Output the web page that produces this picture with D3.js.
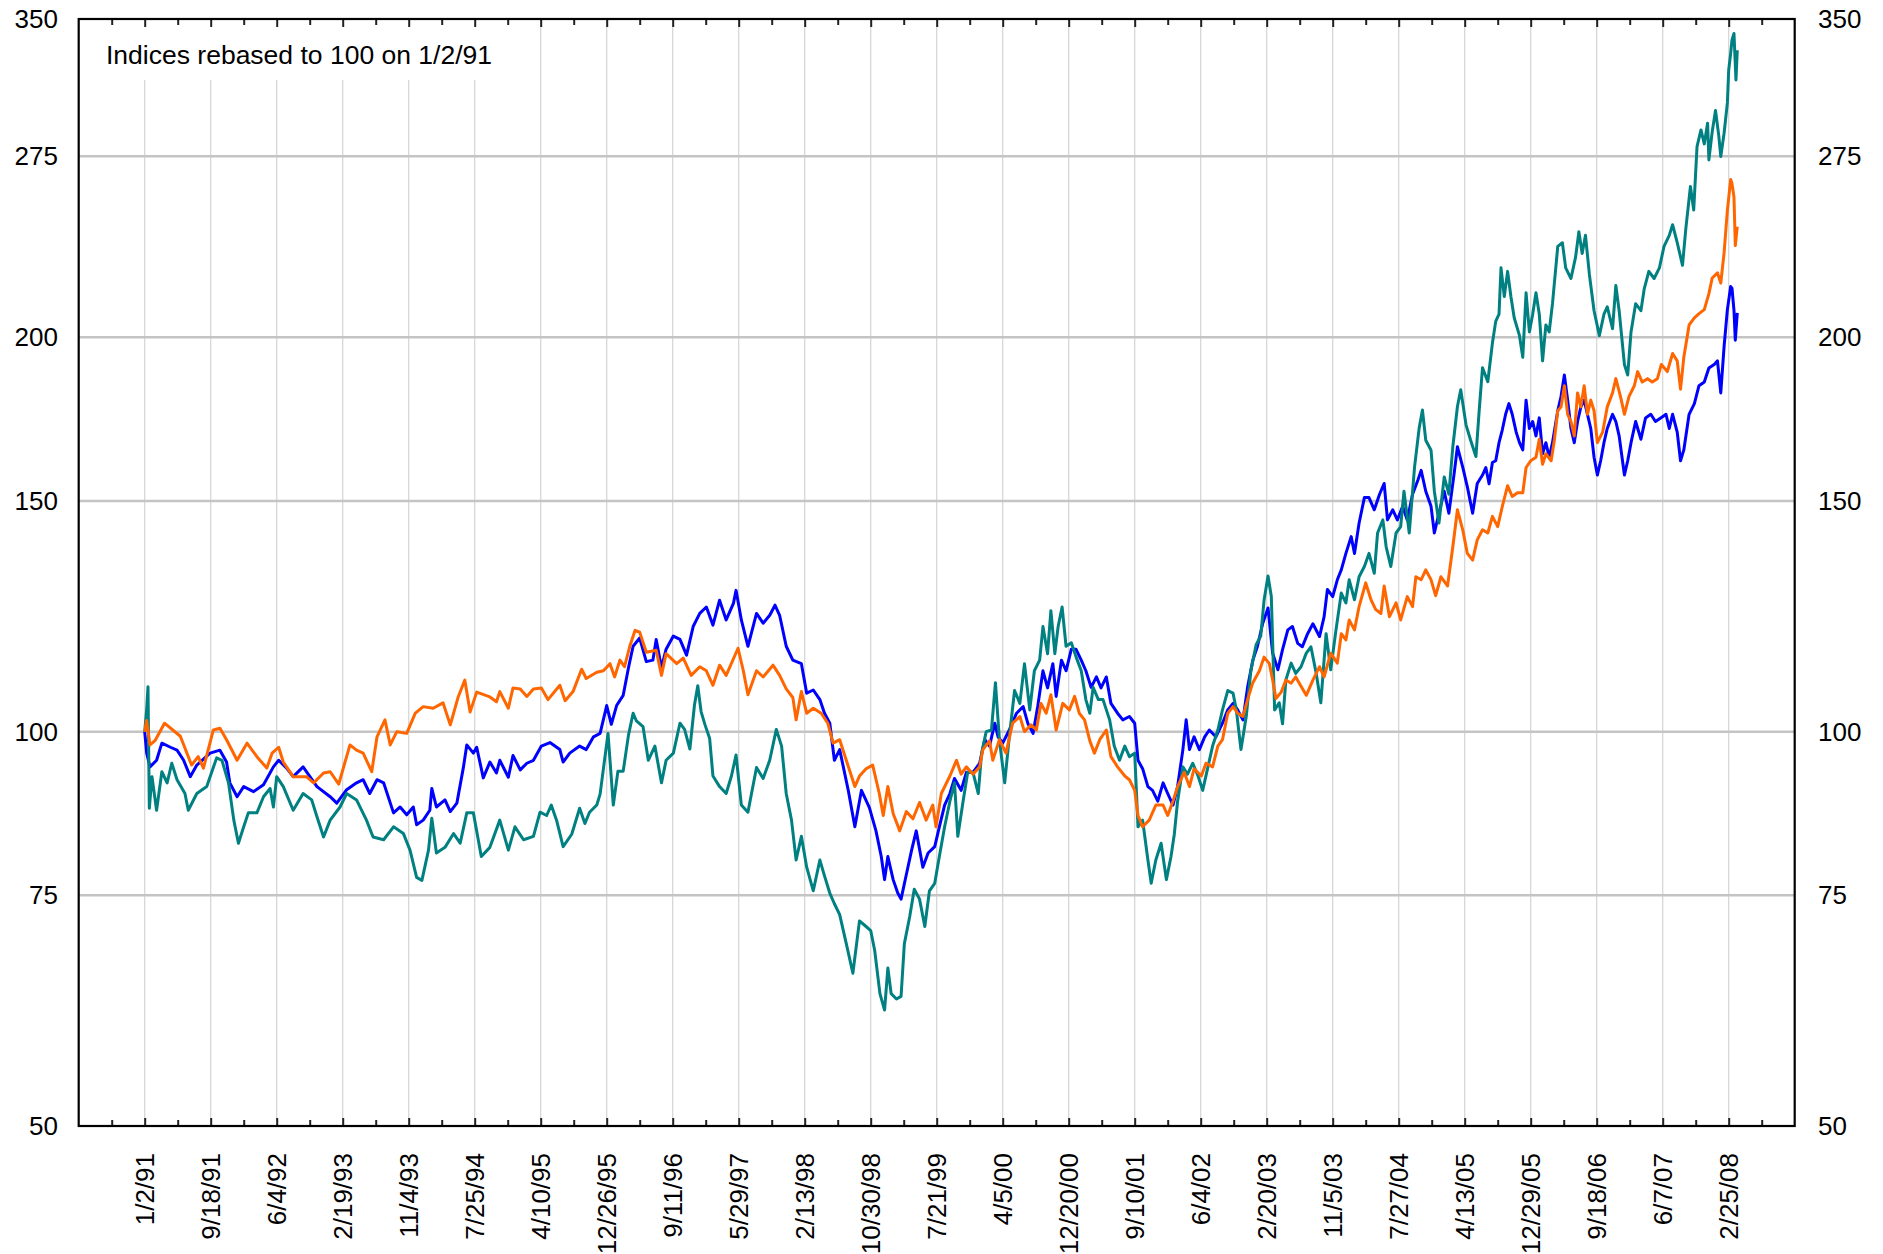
<!DOCTYPE html>
<html>
<head>
<meta charset="utf-8">
<script src="https://cdn.jsdelivr.net/npm/d3@7"></script>
<style>
  body { margin: 0; background: #fff; }
  svg { display: block; font-family: "Liberation Sans", Arial, sans-serif; }
</style>
</head>
<body>
<script>
// Size
const w = 1883;
const h = 1254;
const plotLeft = 78.7, plotRight = 1794.7, plotTop = 19, plotBottom = 1126;

// Tick labels (one every 180 trading days)
const dateLabels = ["1/2/91", "9/18/91", "6/4/92", "2/19/93", "11/4/93", "7/25/94", "4/10/95",
  "12/26/95", "9/11/96", "5/29/97", "2/13/98", "10/30/98", "7/21/99", "4/5/00", "12/20/00",
  "9/10/01", "6/4/02", "2/20/03", "11/5/03", "7/27/04", "4/13/05", "12/29/05", "9/18/06",
  "6/7/07", "2/25/08"];
const yTicks = [50, 75, 100, 150, 200, 275, 350];
const yGrid = [75, 100, 150, 200, 275];

// Series: [position in tick periods, index value]
const orange = [
  [0,100],[0.03,102],[0.08,97.7],[0.16,98.5],[0.3,101.5],[0.54,99.2],[0.71,94.3],[0.81,95.7],[0.89,93.8],
  [1.04,100.3],[1.14,100.6],[1.24,98.6],[1.4,95.1],[1.55,98],[1.7,95.7],[1.85,93.8],[1.93,96.3],
  [2.03,97.3],[2.1,94.8],[2.25,92.4],[2.45,92.4],[2.56,91.4],[2.71,93],[2.81,93.2],[2.94,91.2],
  [3.11,97.7],[3.21,96.8],[3.31,96.3],[3.44,93.2],[3.52,99.1],[3.64,102.1],[3.72,97.7],[3.82,100],[3.97,99.7],
  [4.1,103.3],[4.22,104.5],[4.37,104.2],[4.52,105.2],[4.63,101.2],[4.75,106.3],[4.85,109.5],[4.93,103.5],
  [5.03,107.2],[5.23,106.3],[5.33,105.4],[5.38,107.3],[5.51,104.2],[5.58,108],[5.69,107.8],[5.79,106.4],[5.89,107.8],
  [6.01,108],[6.11,105.8],[6.29,108.5],[6.37,105.6],[6.49,107.3],[6.62,111.6],[6.69,109.8],[6.85,111],[6.95,111.3],
  [7.05,112.7],[7.12,110.1],[7.2,113.4],[7.27,112.1],[7.35,116.2],[7.43,119.5],[7.5,119.1],[7.6,115],[7.75,115.4],
  [7.83,110.4],[7.9,114.7],[8.06,112.7],[8.16,113.8],[8.28,110.4],[8.41,112.1],[8.51,111.3],[8.61,108.5],
  [8.71,112.4],[8.81,110.4],[8.99,115.8],[9.07,111.3],[9.14,106.7],[9.27,111.3],[9.37,110.1],[9.52,112.4],
  [9.62,110.4],[9.72,107.8],[9.82,106.2],[9.87,102.1],[9.95,107.3],[10.03,103.3],[10.13,104.2],[10.25,103.3],
  [10.35,101.5],[10.43,98],[10.53,98.6],[10.63,95.1],[10.76,90.8],[10.83,92.5],[10.93,93.7],[11.03,94.3],
  [11.13,89.7],[11.19,86.3],[11.26,90.8],[11.34,86.6],[11.44,84],[11.54,86.9],[11.64,85.8],[11.74,88.3],
  [11.84,85.6],[11.94,87.9],[11.99,84.6],[12.07,89.7],[12.2,92.5],[12.3,95.1],[12.37,92.8],[12.45,94],
  [12.55,92.8],[12.65,94],[12.7,96.9],[12.8,98.4],[12.85,95.1],[12.95,98.6],[13.05,96.3],[13.15,101.5],
  [13.26,102.7],[13.33,100],[13.43,101.2],[13.51,100.3],[13.58,105.1],[13.66,103.3],[13.73,106.7],[13.81,100.3],
  [13.91,105.1],[14.01,103.9],[14.09,106.4],[14.16,103.3],[14.24,102.1],[14.32,98.4],[14.39,96.3],[14.47,98.6],
  [14.57,100.3],[14.64,95.7],[14.74,94],[14.85,92.5],[14.92,91.9],[15.0,90.2],[15.05,86.3],[15.12,84.6],
  [15.22,85.6],[15.32,87.9],[15.43,87.9],[15.5,86.3],[15.58,88.5],[15.65,90.8],[15.75,93.1],[15.83,90.8],
  [15.9,93.7],[16.01,92.5],[16.08,94.6],[16.18,94],[16.26,97.5],[16.33,98.6],[16.41,103.3],[16.49,104.5],
  [16.56,103.3],[16.64,102.7],[16.71,105.8],[16.79,109],[16.89,111.3],[16.96,114],[17.04,112.7],[17.09,109.5],
  [17.14,106],[17.22,107.2],[17.29,109.5],[17.37,108.9],[17.44,110.1],[17.52,108.3],[17.6,106.6],[17.7,109.5],
  [17.8,112.1],[17.87,110.1],[17.97,114.8],[18.07,112.8],[18.13,118.8],[18.2,117.5],[18.25,121.7],[18.33,119.6],
  [18.4,124.6],[18.5,129.9],[18.58,126.1],[18.65,124],[18.73,123.1],[18.78,129.2],[18.86,122.4],[18.96,125.4],
  [19.03,121.7],[19.13,126.8],[19.21,124.6],[19.26,131.3],[19.34,130.6],[19.41,132.9],[19.49,130.6],[19.56,127],
  [19.64,131.3],[19.74,129.2],[19.82,138.4],[19.89,147.7],[19.97,142.6],[20.04,136.8],[20.12,135.2],[20.19,140.1],
  [20.27,142.6],[20.35,141.8],[20.42,146],[20.5,143.4],[20.57,148.6],[20.65,154.1],[20.72,151.2],[20.8,152.2],
  [20.88,152.2],[20.93,159.1],[21.0,161],[21.08,162],[21.13,167.2],[21.18,160],[21.23,163],[21.31,161],
  [21.36,167.2],[21.41,175.8],[21.46,177],[21.51,183.7],[21.56,174.7],[21.61,172.5],[21.66,168.2],[21.71,181.4],
  [21.76,177],[21.81,183.7],[21.86,174.7],[21.91,179.1],[21.96,175.8],[22.01,166.2],[22.09,169.3],[22.16,177],
  [22.24,181.4],[22.29,186],[22.36,180.3],[22.42,174.7],[22.49,180.3],[22.57,183.7],[22.62,188.3],[22.69,184.9],
  [22.77,186],[22.84,184.9],[22.92,186],[22.98,190.7],[23.07,188.3],[23.15,194.4],[23.22,191.9],[23.27,182.6],
  [23.32,193.1],[23.4,204.4],[23.48,207],[23.55,208.5],[23.63,210],[23.7,216],[23.75,222],[23.83,224],
  [23.88,220],[23.93,232],[23.98,250],[24.03,264],[24.05,262],[24.08,256],[24.1,235],[24.13,243]
];

const blue = [
  [0,100],[0.03,96.3],[0.08,94],[0.18,95.1],[0.26,98],[0.39,97.3],[0.49,96.8],[0.59,95.1],[0.69,92.4],[0.79,94.3],
  [0.99,96.3],[1.14,96.8],[1.24,94.8],[1.29,91.4],[1.4,89.2],[1.5,90.8],[1.65,90],[1.8,91.1],[1.95,94],
  [2.03,95.1],[2.15,93.8],[2.25,92.4],[2.4,94],[2.61,90.8],[2.81,89.2],[2.91,88.2],[3.06,90.3],[3.21,91.4],
  [3.31,91.9],[3.41,89.7],[3.52,91.9],[3.62,91.4],[3.77,86.7],[3.87,87.6],[3.97,86.4],[4.07,87.6],[4.12,84.9],
  [4.22,85.6],[4.32,87.1],[4.35,90.5],[4.42,87.6],[4.55,88.7],[4.63,86.9],[4.73,88.2],[4.83,94],[4.88,97.7],
  [4.98,96.3],[5.03,97.3],[5.13,92.2],[5.23,94.8],[5.33,93],[5.38,95.1],[5.51,92.3],[5.58,95.9],[5.69,93.5],
  [5.79,94.6],[5.89,95.1],[6.01,97.5],[6.14,98.1],[6.29,96.9],[6.34,94.8],[6.44,96.3],[6.59,97.5],[6.69,96.9],
  [6.8,99.1],[6.9,99.7],[7.0,104.7],[7.07,101.3],[7.15,104.7],[7.25,106.6],[7.33,111.9],[7.4,116.2],[7.5,117.9],
  [7.6,113.1],[7.7,113.4],[7.75,117.6],[7.83,111.9],[7.9,115.6],[8.01,118.3],[8.11,117.6],[8.21,114.4],
  [8.31,120.3],[8.41,123.1],[8.51,124.5],[8.61,120.6],[8.71,126],[8.81,121.7],[8.92,125.3],[8.96,128.2],
  [9.04,121.7],[9.14,116.2],[9.27,123.1],[9.37,121],[9.47,122.7],[9.55,124.9],[9.62,122.7],[9.72,116.2],
  [9.82,113.4],[9.95,112.7],[10.03,107],[10.13,107.6],[10.23,105.8],[10.3,103.3],[10.38,101.5],[10.45,95.1],
  [10.53,96.9],[10.66,90.2],[10.76,84.6],[10.86,90.2],[10.98,87.5],[11.08,84],[11.16,80.3],[11.21,77.1],
  [11.26,80.3],[11.34,77.1],[11.41,75.3],[11.46,74.5],[11.54,77.8],[11.62,81.2],[11.69,84],[11.79,78.8],
  [11.87,80.8],[11.97,81.7],[12.04,84.6],[12.12,87.9],[12.2,89.7],[12.27,92.1],[12.37,90.2],[12.45,93.1],
  [12.55,93.1],[12.65,94.6],[12.73,98.6],[12.8,97.5],[12.88,101.5],[12.93,99.1],[13.0,98],[13.1,100.3],
  [13.21,103.3],[13.31,104.5],[13.38,101.5],[13.46,99.7],[13.53,104.5],[13.61,111.3],[13.68,108],[13.76,112.7],
  [13.81,106.4],[13.89,113.4],[13.96,111.3],[14.04,115.6],[14.11,115.6],[14.19,113.4],[14.26,111.3],[14.34,108.1],
  [14.42,110.1],[14.49,108],[14.57,110.1],[14.64,105.1],[14.74,103.3],[14.82,102.1],[14.92,102.7],[15.0,101.5],
  [15.05,95.1],[15.12,93.7],[15.2,90.8],[15.27,90.2],[15.35,88.5],[15.43,91.4],[15.5,89.7],[15.58,87.9],
  [15.65,90.8],[15.73,96.9],[15.78,102.1],[15.83,96.9],[15.9,99.1],[15.98,96.9],[16.06,99.1],[16.13,100.3],
  [16.23,99.1],[16.33,101.5],[16.41,103.9],[16.49,105.1],[16.56,103.9],[16.64,102.1],[16.71,108.1],[16.79,113.4],
  [16.86,116.2],[16.94,121],[17.02,124.3],[17.09,114.8],[17.17,111.5],[17.24,115.5],[17.32,119.6],[17.39,120.3],
  [17.47,116.8],[17.54,116.1],[17.62,118.8],[17.7,120.9],[17.8,118.2],[17.87,122.4],[17.92,128.4],[18.0,126.8],
  [18.07,130.6],[18.13,132.9],[18.2,136.8],[18.28,140.9],[18.33,136.8],[18.4,144.3],[18.48,150.9],[18.55,150.9],
  [18.63,147.7],[18.71,151.8],[18.78,154.7],[18.83,145.1],[18.91,147.7],[18.98,145.1],[19.06,148.6],[19.13,145.1],
  [19.21,151.8],[19.29,155.6],[19.34,158.3],[19.41,152.6],[19.49,148.6],[19.54,141.8],[19.61,146.8],[19.69,152.6],
  [19.76,146.8],[19.84,157.4],[19.89,165],[19.97,159.2],[20.04,153.8],[20.12,146.8],[20.19,154.7],[20.27,157],
  [20.32,159.1],[20.37,154.6],[20.42,160.5],[20.47,161],[20.52,166.2],[20.57,170],[20.62,174.7],[20.67,178],
  [20.72,174.7],[20.78,169.3],[20.83,166.2],[20.88,164.1],[20.93,179.1],[20.98,170.4],[21.03,172.5],[21.08,168.2],
  [21.13,173.6],[21.18,163],[21.23,166.2],[21.28,162],[21.33,166.2],[21.41,175.8],[21.46,180.3],[21.51,187.2],
  [21.56,179.1],[21.61,170.4],[21.66,166.2],[21.71,172.5],[21.76,177],[21.81,179.1],[21.86,174.7],[21.91,170.4],
  [21.96,162],[22.01,157],[22.06,161],[22.11,166.2],[22.16,170.4],[22.24,174.7],[22.29,172.5],[22.34,168.2],
  [22.42,157],[22.47,161],[22.52,166.2],[22.59,172.5],[22.67,167.2],[22.74,173.6],[22.82,174.7],[22.89,172.5],
  [22.97,173.6],[23.05,174.7],[23.1,170.4],[23.15,174.7],[23.22,169.3],[23.27,161],[23.32,164.1],[23.4,174.7],
  [23.48,178],[23.55,183.7],[23.63,184.9],[23.7,189.5],[23.78,190.7],[23.83,191.9],[23.88,181.4],[23.93,196.8],
  [23.98,210],[24.03,218.7],[24.05,218],[24.08,209.7],[24.1,199],[24.13,208.8]
];

const teal = [
  [0,100],[0.03,104],[0.05,108.2],[0.07,87.4],[0.11,92.4],[0.18,87.1],[0.26,93.2],[0.34,91.4],[0.41,94.6],
  [0.49,91.9],[0.61,89.7],[0.66,87.1],[0.79,89.7],[0.94,90.8],[1.09,95.5],[1.17,95.1],[1.27,91.4],[1.35,85.6],
  [1.42,82.2],[1.5,84.6],[1.57,86.7],[1.7,86.7],[1.8,89.2],[1.9,90.5],[1.95,87.6],[2.0,92.4],[2.1,90.8],
  [2.25,87.1],[2.4,89.7],[2.53,88.7],[2.61,86.1],[2.71,83.1],[2.81,85.6],[2.96,87.6],[3.06,89.7],[3.21,88.7],
  [3.36,85.6],[3.46,83.1],[3.62,82.7],[3.77,84.6],[3.92,83.6],[4.02,81.2],[4.12,77.4],[4.2,77],[4.3,81.2],
  [4.35,85.9],[4.42,80.8],[4.55,81.6],[4.68,83.6],[4.78,82.2],[4.88,86.7],[4.98,86.7],[5.1,80.3],[5.23,81.6],
  [5.38,85.6],[5.51,81.2],[5.61,84.6],[5.74,82.7],[5.89,83.2],[5.99,86.8],[6.09,86.3],[6.16,87.9],[6.24,85.6],
  [6.34,81.7],[6.47,83.5],[6.59,87.4],[6.67,85.1],[6.74,86.8],[6.85,87.9],[6.9,89.6],[7.02,99.7],[7.1,87.9],
  [7.17,93.3],[7.25,93.3],[7.33,99.4],[7.4,103.3],[7.45,101.9],[7.55,100.9],[7.63,95.1],[7.73,97.5],[7.83,91.4],
  [7.9,95.1],[8.01,96.3],[8.11,101.5],[8.18,100.4],[8.26,97],[8.33,104.8],[8.38,108.4],[8.43,103.6],[8.49,101.2],
  [8.56,98.8],[8.61,92.5],[8.71,90.8],[8.81,89.7],[8.89,92.5],[8.96,96],[9.04,87.9],[9.14,86.8],[9.27,93.9],
  [9.37,92.1],[9.47,95.1],[9.57,100.4],[9.65,97.5],[9.72,89.7],[9.8,85.6],[9.87,79.8],[9.95,83.2],[10.03,78.8],
  [10.13,75.6],[10.23,79.8],[10.3,77.6],[10.38,75.3],[10.45,73.9],[10.53,72.5],[10.63,68.9],[10.73,65.4],
  [10.83,71.7],[10.93,71],[11.0,70.5],[11.06,68.1],[11.14,63.1],[11.21,61.3],[11.26,66],[11.31,63.1],
  [11.39,62.5],[11.46,62.8],[11.51,68.9],[11.59,72.2],[11.66,75.8],[11.74,74.5],[11.82,71],[11.89,75.6],
  [11.97,76.6],[12.04,80.3],[12.12,84.6],[12.2,88.5],[12.27,91.4],[12.32,83.2],[12.4,88.5],[12.47,93.1],
  [12.55,93.1],[12.63,89.7],[12.68,96.3],[12.75,100],[12.83,100.3],[12.89,109],[12.95,98.6],[13.03,91.4],
  [13.1,99.1],[13.18,107.5],[13.26,105.1],[13.33,112.7],[13.41,103.9],[13.48,111.3],[13.56,113.4],[13.61,120.3],
  [13.68,114.7],[13.73,123.7],[13.79,114.7],[13.84,120.3],[13.9,124.5],[13.96,116.2],[14.04,116.9],[14.11,114.1],
  [14.19,111.3],[14.26,105.8],[14.32,103.3],[14.37,108.1],[14.45,105.8],[14.52,105.8],[14.62,102.1],[14.69,97.5],
  [14.77,95.1],[14.85,97.5],[14.92,95.7],[15.0,96.3],[15.05,84.6],[15.12,85.6],[15.2,79.8],[15.25,76.6],
  [15.32,79.8],[15.4,82.2],[15.48,77.1],[15.55,80.3],[15.6,83.5],[15.65,88.5],[15.73,94],[15.8,92.8],
  [15.88,94.6],[15.96,92.5],[16.03,90.2],[16.11,94],[16.18,97.5],[16.26,100.3],[16.33,103.9],[16.41,107.5],
  [16.49,107],[16.54,103.9],[16.61,96.9],[16.69,102.7],[16.76,111.3],[16.84,116.5],[16.91,118.3],[16.96,126],
  [17.02,131.5],[17.07,126.8],[17.12,103.9],[17.19,105.2],[17.24,101.4],[17.29,109.5],[17.37,112.8],[17.44,110.8],
  [17.52,112.1],[17.6,114.8],[17.67,116.1],[17.75,110.8],[17.82,105.2],[17.9,118.8],[17.97,111.5],[18.05,119.6],
  [18.13,127.6],[18.2,125.4],[18.25,130.6],[18.33,126.1],[18.4,131.3],[18.48,133.7],[18.55,136.8],[18.63,132.1],
  [18.68,141.8],[18.76,145.1],[18.81,138.4],[18.88,133.7],[18.96,141.8],[19.03,143.4],[19.08,152.6],[19.16,141.8],
  [19.24,159.2],[19.31,170.5],[19.36,176],[19.41,166.9],[19.49,164],[19.54,152.6],[19.61,144.3],[19.69,156.5],
  [19.76,151.8],[19.82,165],[19.89,177.1],[19.94,182.4],[20.02,171.5],[20.09,166.9],[20.17,162.2],[20.22,176],
  [20.27,189.6],[20.35,185],[20.42,198],[20.47,205.7],[20.52,208.3],[20.55,226],[20.6,214.9],[20.65,224.6],
  [20.7,214.9],[20.75,207],[20.83,200.6],[20.88,193.1],[20.93,216.3],[20.98,201.9],[21.03,208.3],[21.08,216.3],
  [21.13,208.3],[21.18,191.9],[21.23,204.4],[21.28,201.9],[21.33,212.2],[21.41,234.7],[21.48,236.2],[21.53,226],
  [21.61,221.8],[21.68,230.3],[21.73,240.8],[21.78,231.8],[21.83,239.3],[21.89,223.2],[21.96,209.6],[22.04,200.6],
  [22.11,208.3],[22.16,211],[22.24,203.1],[22.29,219.1],[22.34,209.6],[22.42,190.7],[22.47,187.2],[22.52,201.9],
  [22.59,212.2],[22.67,209.6],[22.72,217.8],[22.79,224.6],[22.87,221.8],[22.95,226],[23.02,234.7],[23.1,239.3],
  [23.15,243.8],[23.22,236.2],[23.3,227],[23.35,242],[23.42,260.7],[23.47,250.2],[23.52,279.7],[23.58,288],
  [23.63,281],[23.68,291.4],[23.7,273.2],[23.75,287],[23.8,298],[23.85,285],[23.88,274.8],[23.93,286.3],
  [23.98,302],[24.0,320],[24.03,329.5],[24.05,337.4],[24.08,341.2],[24.11,314.4],[24.13,331.4]
];

// SVG
const svg = d3.select("body")
  .append("svg")
  .attr("width", w)
  .attr("height", h);

svg.append("rect").attr("width", w).attr("height", h).attr("fill", "#fff");

// Scales
const xScale = d3.scaleLinear().domain([-1, 25]).range([plotLeft, plotRight]);
const yScale = d3.scaleLog().domain([50, 350]).range([plotBottom, plotTop]);

const majorTicks = d3.range(0, dateLabels.length);
const minorTicks = d3.range(-0.5, 25, 1);

// Vertical grid
svg.append("g")
  .selectAll("line")
  .data(majorTicks)
  .join("line")
  .attr("x1", d => xScale(d))
  .attr("x2", d => xScale(d))
  .attr("y1", plotTop)
  .attr("y2", plotBottom)
  .attr("stroke", "#d4d4d4")
  .attr("stroke-width", 1.2);

// Horizontal grid
svg.append("g")
  .selectAll("line")
  .data(yGrid)
  .join("line")
  .attr("x1", plotLeft)
  .attr("x2", plotRight)
  .attr("y1", d => yScale(d))
  .attr("y2", d => yScale(d))
  .attr("stroke", "#c4c4c4")
  .attr("stroke-width", 2.5);

// Label box hides the grid behind the note
svg.append("rect")
  .attr("x", plotLeft + 1)
  .attr("y", plotTop + 1)
  .attr("width", 430)
  .attr("height", 60)
  .attr("fill", "#fff");

svg.append("text")
  .attr("x", 106)
  .attr("y", 64)
  .attr("font-size", "26.5px")
  .attr("fill", "#000")
  .text("Indices rebased to 100 on 1/2/91");

// Lines
const line = d3.line()
  .x(d => xScale(d[0]))
  .y(d => yScale(d[1]));

const series = [
  { data: blue, color: "#0000ff" },
  { data: teal, color: "#008080" },
  { data: orange, color: "#ff6600" }
];

svg.append("g")
  .selectAll("path")
  .data(series)
  .join("path")
  .attr("d", d => line(d.data))
  .attr("fill", "none")
  .attr("stroke", d => d.color)
  .attr("stroke-width", 3)
  .attr("stroke-linejoin", "round");

// X axis ticks, bottom and top, pointing inward
function addTicks(values, len) {
  svg.append("g")
    .attr("transform", `translate(0,${plotBottom})`)
    .call(d3.axisBottom(xScale).tickValues(values).tickSize(-len).tickFormat(""))
    .call(g => g.select(".domain").remove())
    .selectAll("line").attr("stroke", "#222").attr("stroke-width", 2);
  svg.append("g")
    .attr("transform", `translate(0,${plotTop})`)
    .call(d3.axisTop(xScale).tickValues(values).tickSize(-len).tickFormat(""))
    .call(g => g.select(".domain").remove())
    .selectAll("line").attr("stroke", "#222").attr("stroke-width", 2);
}
addTicks(majorTicks, 8);
addTicks(minorTicks, 6);

// Frame
svg.append("rect")
  .attr("x", plotLeft)
  .attr("y", plotTop)
  .attr("width", plotRight - plotLeft)
  .attr("height", plotBottom - plotTop)
  .attr("fill", "none")
  .attr("stroke", "#000")
  .attr("stroke-width", 2.2);

// X labels, rotated
svg.append("g")
  .selectAll("text")
  .data(majorTicks)
  .join("text")
  .attr("transform", d => `translate(${xScale(d)},${plotBottom + 27}) rotate(-90)`)
  .attr("text-anchor", "end")
  .attr("dy", "0.35em")
  .attr("font-size", "26px")
  .attr("fill", "#000")
  .text(d => dateLabels[d]);

// Y labels, left and right
svg.append("g")
  .selectAll("text")
  .data(yTicks)
  .join("text")
  .attr("x", 58)
  .attr("y", d => yScale(d))
  .attr("dy", "0.35em")
  .attr("text-anchor", "end")
  .attr("font-size", "26px")
  .text(d => d);

svg.append("g")
  .selectAll("text")
  .data(yTicks)
  .join("text")
  .attr("x", 1818)
  .attr("y", d => yScale(d))
  .attr("dy", "0.35em")
  .attr("text-anchor", "start")
  .attr("font-size", "26px")
  .text(d => d);
</script>
</body>
</html>
